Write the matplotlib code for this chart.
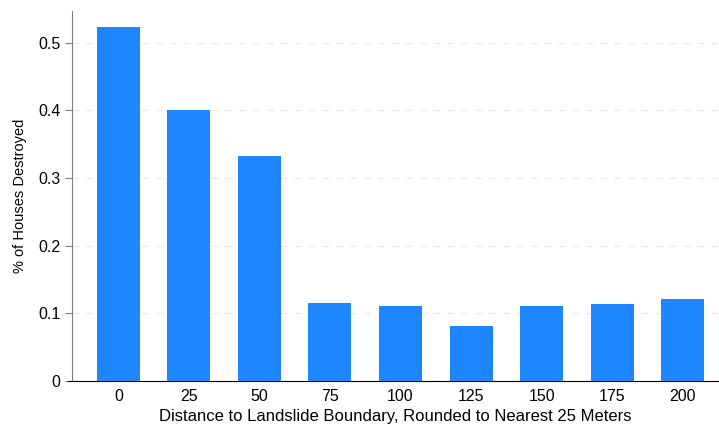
import matplotlib
matplotlib.use('Agg')
import matplotlib.pyplot as plt
import numpy as np

plt.rcParams['font.family'] = ['Liberation Sans', 'DejaVu Sans']

# share of houses destroyed by distance bin
distance = ['0', '25', '50', '75', '100', '125', '150', '175', '200']
share_destroyed = [0.523, 0.400, 0.333, 0.116, 0.111, 0.081, 0.111, 0.114, 0.121]

fig = plt.figure(figsize=(7.19, 4.26), dpi=100)
ax = fig.add_axes([0.1008, 0.1056, 0.8978, 0.8684])

x = np.arange(len(distance))
ax.bar(x, share_destroyed, width=0.61, color='#1e87ff', zorder=3)

ax.set_xlim(-0.65, 8.5)
ax.set_ylim(0, 0.547)
ax.set_xticks(x)
ax.set_xticklabels(distance)
ax.set_yticks([0, 0.1, 0.2, 0.3, 0.4, 0.5])
ax.set_yticklabels(['0', '0.1', '0.2', '0.3', '0.4', '0.5'])

# light dashed gridlines
ax.yaxis.grid(True, linestyle=(0, (5, 5)), color='#ececec', linewidth=1, zorder=0)
ax.set_axisbelow(True)

for s in ['top', 'right']:
    ax.spines[s].set_visible(False)
ax.spines['left'].set_color('#808080')
ax.spines['bottom'].set_color('black')
ax.spines['bottom'].set_bounds(-0.72, 8.5)
ax.tick_params(axis='y', colors='#808080', labelcolor='black', length=5, labelsize=11.5)
ax.tick_params(axis='x', length=0, pad=6, labelsize=11.5)

ax.set_xlabel('Distance to Landslide Boundary, Rounded to Nearest 25 Meters', fontsize=12, labelpad=3)
ax.set_ylabel('% of Houses Destroyed', fontsize=10.5, labelpad=8)

plt.savefig('out.png', dpi=100)
